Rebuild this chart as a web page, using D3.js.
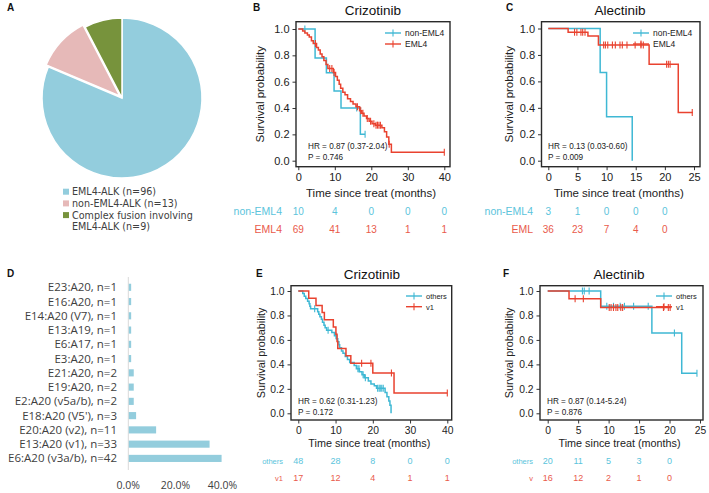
<!DOCTYPE html>
<html>
<head>
<meta charset="utf-8">
<script src="https://cdn.jsdelivr.net/npm/d3@7"></script>
<style>
  body { margin: 0; background: #fff; }
  svg { display: block; }
</style>
</head>
<body>
<div id="graf"></div>
<script>
// -- Datos panel A (pie)
const pieLabels = ['EML4-ALK (n=96)', 'non-EML4-ALK (n=13)', 'Complex fusion involving', 'EML4-ALK (n=9)']
const pieCounts = [96, 13, 9]
const pieColors = ['#93cddd', '#e6b9b8', '#77933c']

// -- Datos panel D (barras)
const fusionLabels = ['E23:A20, n=1', 'E16:A20, n=1', 'E14:A20 (V7), n=1', 'E13:A19, n=1', 'E6:A17, n=1',
  'E3:A20, n=1', 'E21:A20, n=2', 'E19:A20, n=2', 'E2:A20 (v5a/b), n=2', "E18:A20 (V5'), n=3",
  'E20:A20 (v2), n=11', 'E13:A20 (v1), n=33', 'E6:A20 (v3a/b), n=42']
const fusionPct = [1.0, 1.0, 1.0, 1.0, 1.0, 1.0, 2.1, 2.1, 2.1, 3.1, 11.6, 34.3, 39.4]
const fusionTicks = [0, 20, 40]

// -- Panel B: Crizotinib, non-EML4 vs EML4
const bNonSteps = [[0,1],[4.6,0.78],[7.7,0.667],[9.8,0.53],[11.7,0.40],[17.0,0.20]]
const bNonEnd = 18.3
const bNonCens = [1.8, 16.0, 18.3]
const bEmlSteps = [[0,1],[1.2,0.985],[1.8,0.97],[2.5,0.955],[3.0,0.94],[3.6,0.91],[4.1,0.89],[5.0,0.86],
  [5.5,0.84],[6.0,0.81],[6.5,0.79],[7.0,0.76],[7.6,0.73],[8.1,0.70],[9.6,0.67],[10.2,0.64],[10.7,0.61],
  [11.2,0.58],[11.6,0.55],[12.2,0.52],[12.8,0.50],[13.5,0.47],[14.3,0.45],[15.0,0.43],[15.8,0.41],
  [16.8,0.38],[17.4,0.36],[18.0,0.34],[18.7,0.32],[19.4,0.30],[20.2,0.28],[21.1,0.27],[22.9,0.25],
  [23.6,0.22],[24.2,0.18],[24.8,0.125],[25.5,0.065]]
const bEmlEnd = 40
const bEmlCens = [4.7, 8.6, 9.2, 9.8, 16.2, 17.1, 17.7, 18.9, 19.8, 20.7, 21.3, 21.7, 22.1, 22.5, 24.9, 40]
const bRiskNon = [10, 4, 0, 0, 0]
const bRiskEml = [69, 41, 13, 1, 1]

// -- Panel C: Alectinib, non-EML4 vs EML4
const cNonSteps = [[0,1],[8.9,0.667],[10.0,0.333],[14.4,0]]
const cNonEnd = 14.4
const cNonCens = []
const cEmlSteps = [[0,1],[3.4,0.972],[6.8,0.944],[8.6,0.875],[17.3,0.73],[22.3,0.365]]
const cEmlEnd = 24.8
const cEmlCens = [4.5, 4.9, 5.6, 5.9, 6.3, 9.5, 9.8, 10.2, 11.0, 11.5, 12.3, 12.7, 13.5, 14.9, 15.9, 16.3,
  20.3, 20.6, 20.9, 24.7]
const cRiskNon = [3, 1, 0, 0, 0]
const cRiskEml = [36, 23, 7, 4, 0]

// -- Panel E: Crizotinib, others vs v1
const eOthSteps = [[0,1],[1.2,0.979],[1.6,0.958],[2.0,0.938],[2.5,0.917],[2.9,0.896],[3.1,0.875],[3.3,0.854],
  [5.2,0.83],[5.5,0.81],[5.8,0.79],[6.2,0.77],[6.5,0.745],[6.9,0.72],[7.2,0.70],[7.6,0.68],[9.0,0.66],
  [9.7,0.635],[10.3,0.61],[10.6,0.585],[10.9,0.56],[11.1,0.535],[11.6,0.51],[12.0,0.49],[12.6,0.465],
  [13.2,0.44],[13.8,0.415],[15.0,0.39],[15.6,0.365],[16.4,0.34],[17.1,0.315],[17.7,0.29],[18.8,0.265],
  [19.5,0.24],[20.4,0.225],[21.0,0.205],[23.3,0.17],[23.8,0.135],[24.3,0.10],[24.6,0.065],[24.9,0]]
const eOthEnd = 24.9
const eOthCens = [4.4, 8.0, 10.1, 16.0, 16.3, 17.4, 18.0, 21.3, 21.7, 22.0, 22.4, 22.8]
const eV1Steps = [[0,1],[2.8,0.941],[4.75,0.882],[6.4,0.824],[7.0,0.765],[9.4,0.706],[10.1,0.647],
  [10.4,0.588],[10.6,0.529],[12.8,0.47],[14.1,0.41],[20.0,0.33],[25.7,0.165]]
const eV1End = 40
const eV1Cens = [17.0, 19.5, 25.0, 40]
const eRiskOth = [48, 28, 8, 0, 0]
const eRiskV1 = [17, 12, 4, 1, 1]

// -- Panel F: Alectinib, others vs v1
const fOthSteps = [[0,1],[8.7,0.875],[17.1,0.656],[22.0,0.328]]
const fOthEnd = 24.5
const fOthCens = [5.7, 6.0, 6.8, 9.7, 10.8, 11.9, 12.6, 14.1, 16.5, 20.8, 24.5]
const fV1Steps = [[0,1],[3.5,0.9375],[8.7,0.865]]
const fV1End = 20.3
const fV1Cens = [4.5, 5.85, 10.1, 10.4, 10.8, 11.2, 11.5, 12.0, 12.3, 19.0, 19.8, 20.1]
const fRiskOth = [20, 11, 5, 3, 0]
const fRiskV1 = [16, 12, 2, 1, 0]

const survTicks = [0, 0.2, 0.4, 0.6, 0.8, 1.0]
const ticks40 = [0, 10, 20, 30, 40]
const ticks25 = [0, 5, 10, 15, 20, 25]
const risk40 = [0, 10, 20, 30, 40]
const risk25 = [0, 5, 10, 15, 20]

const cian = '#3fb8d4'
const rojo = '#e9422f'
const cianTxt = '#5bc4dc'
const rojoTxt = '#e95a4b'

// -- Canvas
const svg = d3.select('#graf').append('svg')
  .attr('width', 709)
  .attr('height', 493)
svg.append('rect').attr('width', 709).attr('height', 493).attr('fill', '#fff')

function panelLetter(txt, x, y) {
  svg.append('text').attr('x', x).attr('y', y)
    .attr('font-family', 'Liberation Sans, Arial').attr('font-weight', 'bold')
    .attr('font-size', '10px').attr('fill', '#111').text(txt)
}

// -- Panel A
panelLetter('A', 7, 11)
const pie = d3.pie().sort(null).value(d => d)
const arc = d3.arc().innerRadius(0).outerRadius(80)
const gPie = svg.append('g').attr('transform', 'translate(122,98)')
pie(pieCounts).forEach((d, i) => {
  const mid = (d.startAngle + d.endAngle) / 2
  const off = i === 1 ? 3 : 0
  gPie.append('path')
    .attr('d', arc(d))
    .attr('transform', `translate(${Math.sin(mid) * off},${-Math.cos(mid) * off})`)
    .attr('fill', pieColors[i])
    .attr('stroke', '#fff')
    .attr('stroke-width', 1.5)
})
const legA = svg.append('g')
pieLabels.forEach((lab, i) => {
  const yy = 191.7 + i * 11.7
  if (i < 3) {
    legA.append('rect').attr('x', 63).attr('y', yy - 3).attr('width', 6).attr('height', 6)
      .attr('fill', pieColors[i])
  }
  legA.append('text').attr('x', 72).attr('y', yy + 3.4)
    .attr('font-family', 'DejaVu Sans').attr('font-size', '9.6px').attr('fill', '#404040')
    .text(lab)
})

// -- Panel D
panelLetter('D', 7, 277)
const xD = d3.scaleLinear().domain([0, 40]).range([128.3, 222.5])
const yD = d3.scaleBand().domain(fusionLabels).range([276.6, 469.1]).padding(0.5)
svg.append('line').attr('x1', xD(0)).attr('x2', xD(0)).attr('y1', 277).attr('y2', 470)
  .attr('stroke', '#d9d9d9').attr('stroke-width', 1)
svg.append('g').selectAll('rect').data(fusionLabels).join('rect')
  .attr('x', xD(0) + 0.5)
  .attr('y', d => yD(d))
  .attr('width', (d, i) => xD(fusionPct[i]) - xD(0))
  .attr('height', yD.bandwidth())
  .attr('fill', '#93cddd')
svg.append('g').selectAll('text').data(fusionLabels).join('text')
  .attr('x', 117)
  .attr('y', d => yD(d) + yD.bandwidth() / 2 + 4)
  .attr('text-anchor', 'end')
  .attr('font-family', 'Open Sans').attr('font-size', '11.5px').attr('fill', '#404040')
  .text(d => d)
svg.append('g').selectAll('text').data(fusionTicks).join('text')
  .attr('x', d => xD(d))
  .attr('y', 489)
  .attr('text-anchor', 'middle')
  .attr('font-family', 'Open Sans').attr('font-size', '10.5px').attr('fill', '#404040')
  .text(d => d3.format('.1f')(d) + '%')

// -- Paneles Kaplan-Meier
function survAt(steps, t) {
  let s = steps[0][1]
  steps.forEach(p => { if (p[0] <= t) s = p[1] })
  return s
}

function kmPanel(cfg) {
  const g = svg.append('g')
  const x = d3.scaleLinear().domain([0, cfg.xmax]).range(cfg.xr)
  const y = d3.scaleLinear().domain([0, 1]).range(cfg.yr)
  const [fx0, fy0, fx1, fy1] = cfg.frame
  const fam = 'Liberation Sans, Arial'

  panelLetter(cfg.letter, cfg.letterX, cfg.letterY)
  g.append('text').attr('x', cfg.titleX).attr('y', cfg.titleY).attr('text-anchor', 'middle')
    .attr('font-family', fam).attr('font-size', '13.5px').attr('fill', '#111').text(cfg.title)

  // ejes
  const yAxis = d3.axisLeft(y).tickValues(survTicks).tickFormat(d3.format('.1f')).tickSize(3.5).tickPadding(3)
  const xAxis = d3.axisBottom(x).tickValues(cfg.xticks).tickSize(3.5).tickPadding(cfg.xpad)
  const ya = g.append('g').attr('transform', `translate(${fx0},0)`).call(yAxis)
  const xa = g.append('g').attr('transform', `translate(0,${fy1})`).call(xAxis)
  ;[ya, xa].forEach(a => {
    a.select('.domain').remove()
    a.selectAll('line').attr('stroke', '#333')
    a.selectAll('text').attr('font-family', fam).attr('font-size', cfg.tickFs).attr('fill', '#222')
  })

  g.append('rect').attr('x', fx0).attr('y', fy0).attr('width', fx1 - fx0).attr('height', fy1 - fy0)
    .attr('fill', 'none').attr('stroke', '#2a2a2a').attr('stroke-width', 1.4)

  g.append('text')
    .attr('transform', `translate(${cfg.ylabX},${(fy0 + fy1) / 2}) rotate(-90)`)
    .attr('text-anchor', 'middle')
    .attr('font-family', fam).attr('font-size', cfg.labFs).attr('fill', '#222')
    .text('Survival probability')
  g.append('text').attr('x', (fx0 + fx1) / 2 - 2).attr('y', cfg.xlabY).attr('text-anchor', 'middle')
    .attr('font-family', fam).attr('font-size', cfg.labFs).attr('fill', '#222')
    .text('Time since treat (months)')

  // curvas
  const line = d3.line().x(d => x(d[0])).y(d => y(d[1])).curve(d3.curveStepAfter)
  cfg.series.forEach(s => {
    const pts = s.steps.concat([[s.end, s.steps[s.steps.length - 1][1]]])
    g.append('path').attr('d', line(pts)).attr('fill', 'none')
      .attr('stroke', s.color).attr('stroke-width', 1.5)
    g.append('g').selectAll('line').data(s.cens).join('line')
      .attr('x1', d => x(d)).attr('x2', d => x(d))
      .attr('y1', d => y(survAt(s.steps, d)) - 3.5).attr('y2', d => y(survAt(s.steps, d)) + 3.5)
      .attr('stroke', s.color).attr('stroke-width', 1.1)
  })

  // leyenda
  cfg.series.forEach((s, i) => {
    const ly = cfg.legY + i * cfg.legStep
    g.append('line').attr('x1', cfg.legX).attr('x2', cfg.legX + 16).attr('y1', ly).attr('y2', ly)
      .attr('stroke', s.color).attr('stroke-width', 1.4)
    g.append('line').attr('x1', cfg.legX + 8).attr('x2', cfg.legX + 8).attr('y1', ly - 3.5).attr('y2', ly + 3.5)
      .attr('stroke', s.color).attr('stroke-width', 1.1)
    g.append('text').attr('x', cfg.legX + 20).attr('y', ly + 3)
      .attr('font-family', fam).attr('font-size', cfg.legFs).attr('fill', '#222').text(s.name)
  })

  // HR y P
  g.append('text').attr('x', cfg.hrX).attr('y', cfg.hrY).attr('font-family', fam)
    .attr('font-size', '8.2px').attr('fill', '#222').text(cfg.hr)
  g.append('text').attr('x', cfg.hrX).attr('y', cfg.hrY + 11).attr('font-family', fam)
    .attr('font-size', '8.2px').attr('fill', '#222').text(cfg.p)

  // tabla de riesgo
  cfg.risk.forEach((r, i) => {
    const ry = cfg.riskY + i * cfg.riskStep
    g.append('text').attr('x', cfg.riskLabX).attr('y', ry).attr('text-anchor', 'end')
      .attr('font-family', fam).attr('font-size', cfg.riskLabFs).attr('fill', r.color).text(r.name)
    g.append('g').selectAll('text').data(r.vals).join('text')
      .attr('x', (d, j) => x(cfg.riskT[j]))
      .attr('y', ry)
      .attr('text-anchor', 'middle')
      .attr('font-family', fam).attr('font-size', cfg.riskFs).attr('fill', r.color)
      .text(d => d)
  })
}

kmPanel({
  letter: 'B', letterX: 253, letterY: 11, title: 'Crizotinib', titleX: 373, titleY: 15,
  xmax: 40, xr: [298.3, 444.3], yr: [160.7, 29], frame: [296, 21.7, 450, 166.7],
  xticks: ticks40, xpad: 3, tickFs: '11px', labFs: '11.5px', ylabX: 264, xlabY: 197,
  series: [
    {steps: bNonSteps, end: bNonEnd, cens: bNonCens, color: cian, name: 'non-EML4'},
    {steps: bEmlSteps, end: bEmlEnd, cens: bEmlCens, color: rojo, name: 'EML4'}
  ],
  legX: 385, legY: 33, legStep: 11, legFs: '8.5px',
  hr: 'HR = 0.87 (0.37-2.04)', p: 'P = 0.746', hrX: 308, hrY: 149,
  risk: [{name: 'non-EML4', vals: bRiskNon, color: cianTxt}, {name: 'EML4', vals: bRiskEml, color: rojoTxt}],
  riskT: risk40, riskY: 215, riskStep: 17.6, riskLabX: 282, riskLabFs: '10.5px', riskFs: '10px'
})

kmPanel({
  letter: 'C', letterX: 506, letterY: 11, title: 'Alectinib', titleX: 620, titleY: 15,
  xmax: 25, xr: [548.3, 694], yr: [160.7, 28.5], frame: [541.5, 21.7, 700, 166.7],
  xticks: ticks25, xpad: 3, tickFs: '11px', labFs: '11.5px', ylabX: 513, xlabY: 197,
  series: [
    {steps: cNonSteps, end: cNonEnd, cens: cNonCens, color: cian, name: 'non-EML4'},
    {steps: cEmlSteps, end: cEmlEnd, cens: cEmlCens, color: rojo, name: 'EML4'}
  ],
  legX: 633, legY: 33, legStep: 11, legFs: '8.5px',
  hr: 'HR = 0.13 (0.03-0.60)', p: 'P = 0.009', hrX: 548, hrY: 149,
  risk: [{name: 'non-EML4', vals: cRiskNon, color: cianTxt}, {name: 'EML', vals: cRiskEml, color: rojoTxt}],
  riskT: risk25, riskY: 215, riskStep: 17.6, riskLabX: 533, riskLabFs: '10.5px', riskFs: '10px'
})

kmPanel({
  letter: 'E', letterX: 256, letterY: 277, title: 'Crizotinib', titleX: 372, titleY: 279,
  xmax: 40, xr: [298.3, 447.3], yr: [413.3, 291], frame: [291, 285.7, 451.7, 420],
  xticks: ticks40, xpad: 3, tickFs: '10.3px', labFs: '10.8px', ylabX: 265, xlabY: 447,
  series: [
    {steps: eOthSteps, end: eOthEnd, cens: eOthCens, color: cian, name: 'others'},
    {steps: eV1Steps, end: eV1End, cens: eV1Cens, color: rojo, name: 'v1'}
  ],
  legX: 406, legY: 296, legStep: 10.7, legFs: '7.5px',
  hr: 'HR = 0.62 (0.31-1.23)', p: 'P = 0.172', hrX: 298, hrY: 404,
  risk: [{name: 'others', vals: eRiskOth, color: cianTxt}, {name: 'v1', vals: eRiskV1, color: rojoTxt}],
  riskT: risk40, riskY: 464, riskStep: 16.6, riskLabX: 283, riskLabFs: '7.5px', riskFs: '9px'
})

kmPanel({
  letter: 'F', letterX: 503, letterY: 277, title: 'Alectinib', titleX: 619, titleY: 279,
  xmax: 25, xr: [547.7, 700], yr: [413.3, 291], frame: [540, 285.7, 703, 420],
  xticks: ticks25, xpad: 3, tickFs: '10.3px', labFs: '10.8px', ylabX: 513, xlabY: 447,
  series: [
    {steps: fOthSteps, end: fOthEnd, cens: fOthCens, color: cian, name: 'others'},
    {steps: fV1Steps, end: fV1End, cens: fV1Cens, color: rojo, name: 'v1'}
  ],
  legX: 656, legY: 296, legStep: 10.7, legFs: '7.5px',
  hr: 'HR = 0.87 (0.14-5.24)', p: 'P = 0.876', hrX: 547, hrY: 404,
  risk: [{name: 'others', vals: fRiskOth, color: cianTxt}, {name: 'v', vals: fRiskV1, color: rojoTxt}],
  riskT: risk25, riskY: 464, riskStep: 16.6, riskLabX: 533, riskLabFs: '7.5px', riskFs: '9px'
})
</script>
</body>
</html>
